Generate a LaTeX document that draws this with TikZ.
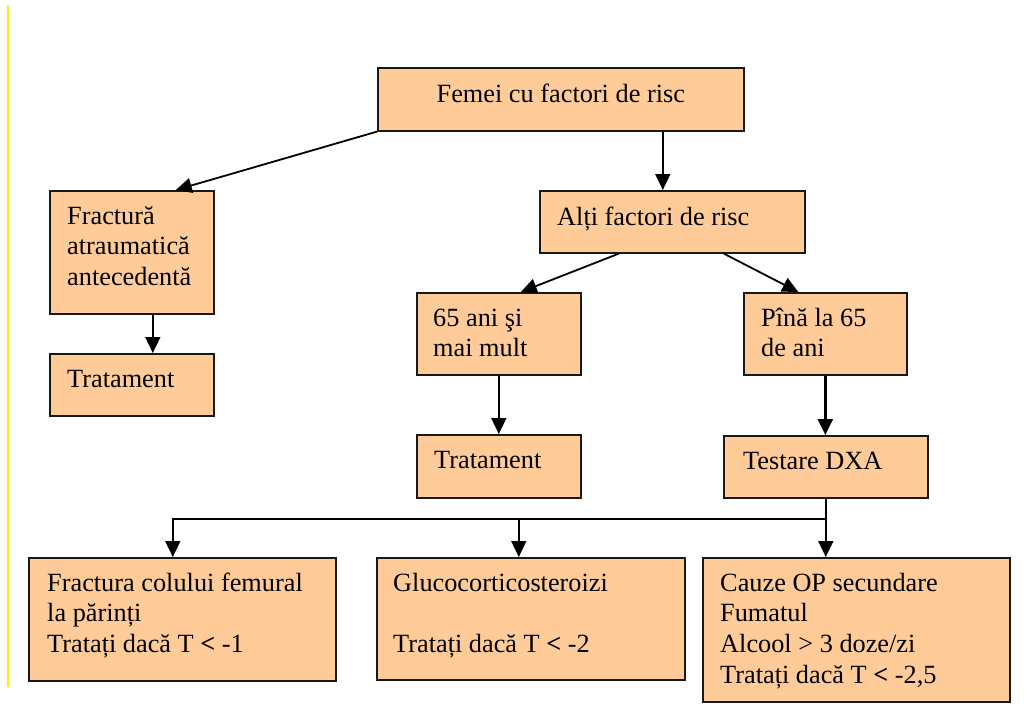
\documentclass[tikz,border=0pt]{standalone}
\usepackage{fontspec}
\setmainfont{Liberation Serif}
\usetikzlibrary{arrows.meta,calc}
\definecolor{boxfill}{RGB}{255,204,153}
\definecolor{edge}{RGB}{25,25,25}
\definecolor{margin}{RGB}{255,240,0}
\begin{document}
\begin{tikzpicture}[x=1pt,y=-1pt,
  box/.style 2 args={draw=edge, line width=1.6pt, fill=boxfill, anchor=north west,
    inner sep=0pt, minimum width=#1, minimum height=#2},
  % multi-line text: the base anchor sits on the last line
  txt/.style={anchor=base west, align=left, inner sep=0pt,
    font=\fontsize{26.3}{30.7}\selectfont},
  arr/.style={draw=black, line width=1.8pt, -{Triangle[length=16pt,width=15pt]}},
  arrbold/.style={arr, line width=2.4pt}
]
\useasboundingbox (0,0) rectangle (1035,716);

% margin rule at the left edge of the page
\draw[margin, line width=1.5pt] (8,5) -- (8,687);

% boxes
\node[box={366pt}{63pt}]  (femei) at (377,67)  {};
\node[box={265pt}{62pt}]  (alti)  at (539,190) {};
\node[box={164pt}{123pt}] (fract) at (49,190)  {};
\node[box={164pt}{62pt}]  (trat1) at (49,353)  {};
\node[box={164pt}{82pt}]  (ani)   at (416,292) {};
\node[box={164pt}{63pt}]  (trat2) at (416,434) {};
\node[box={163pt}{82pt}]  (pina)  at (743,292) {};
\node[box={204pt}{62pt}]  (dxa)   at (723,435) {};
\node[box={307pt}{123pt}] (b1)    at (28,557)  {};
\node[box={308pt}{122pt}] (b2)    at (376,557) {};
\node[box={307pt}{144pt}] (b3)    at (702,557) {};

% texts (offset = first baseline + extra lines x 30.7)
\node[txt, anchor=base] (tfemei) at ($(femei.north)+(0,35)$) {Femei cu factori de risc};
\node[txt] (talti)  at ($(alti.north west)+(18,35)$)  {Alți factori de risc};
\node[txt] (tfract) at ($(fract.north west)+(18,{34+2*30.7})$) {Fractură\\atraumatică\\antecedentă};
\node[txt] (ttrat1) at ($(trat1.north west)+(18,34)$) {Tratament};
\node[txt] (tani)   at ($(ani.north west)+(17,{34+30.7})$)   {65 ani şi\\mai mult};
\node[txt] (ttrat2) at ($(trat2.north west)+(18,34)$) {Tratament};
\node[txt] (tpina)  at ($(pina.north west)+(18,{34+30.7})$)  {Pînă la 65\\de ani};
\node[txt] (tdxa)   at ($(dxa.north west)+(20,34)$)   {Testare DXA};
\node[txt] (tb1) at ($(b1.north west)+(19,{34+2*30.7})$)
  {Fractura colului femural\\la părinți\\Tratați dacă T \textbf{<} -1};
\node[txt] (tb2) at ($(b2.north west)+(17,{34+2*30.7})$)
  {Glucocorticosteroizi\\[30.7pt]Tratați dacă T \textbf{<} -2};
\node[txt] (tb3) at ($(b3.north west)+(18,{34+3*30.7})$)
  {Cauze OP secundare\\Fumatul\\Alcool > 3 doze/zi\\Tratați dacă T \textbf{<} -2,5};

% connectors
\draw[arr] (femei.south west) -- ([xshift=44pt]fract.north);
\draw[arr] ([xshift=102pt]femei.south) -- ([xshift=-9.5pt]alti.north);
\draw[arr] ([xshift=21pt]fract.south) -- ([xshift=21pt]trat1.north);
\draw[arr] ([xshift=-53.5pt]alti.south) -- ([xshift=22pt]ani.north);
\draw[arr] ([xshift=51.5pt]alti.south) -- ([xshift=-27pt]pina.north);
\draw[arr] (ani.south) -- (trat2.north);
\draw[arrbold] (pina.south) -- (pina.south |- dxa.north);

\coordinate (split) at ($(dxa.south)+(0,20)$);
\coordinate (in1) at ([xshift=-9.5pt]b1.north);
\coordinate (in2) at ([xshift=-12pt]b2.north);
\draw[arr] (dxa.south) -- (dxa.south |- b3.north);
\draw[arr] (split) -| (in1);
\draw[arr] (in2 |- split) -- (in2);
\end{tikzpicture}
\end{document}
